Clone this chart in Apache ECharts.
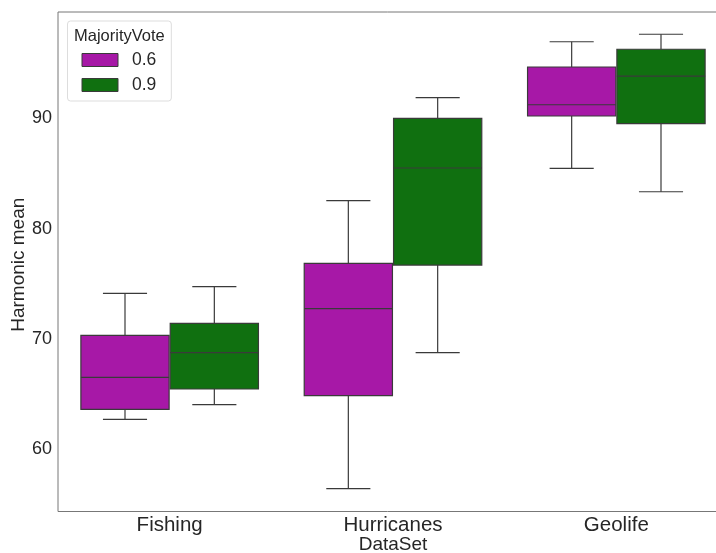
<!DOCTYPE html>
<html>
<head>
<meta charset="utf-8">
<script src="https://cdn.jsdelivr.net/npm/echarts@6/dist/echarts.min.js"></script>
<style>
  html, body { margin: 0; padding: 0; background: #fff; }
  #chart { width: 716px; height: 553px; }
</style>
</head>
<body>
<div id="chart"></div>
<script>
// Data sets on the category axis
const categories = ['Fishing', 'Hurricanes', 'Geolife'];
// Majority-vote thresholds (one box series each)
const voteLevels = ['0.6', '0.9'];
// Box statistics per data set: [low whisker, Q1, median, Q3, high whisker]
const vote06 = [
  [62.72, 63.63, 66.53, 70.34, 74.15],
  [56.43, 64.86, 72.75, 76.87, 82.55],
  [85.48, 90.23, 91.25, 94.67, 96.96]
];
const vote09 = [
  [64.05, 65.47, 68.76, 71.43, 74.75],
  [68.76, 76.71, 85.51, 90.02, 91.89],
  [83.36, 89.53, 93.85, 96.28, 97.64]
];
// Y tick labels
const yTicks = [60, 70, 80, 90];

const fillColors = ['#a718a7', '#107010'];
const lineColor = '#3a3a3a';
const textColor = '#262626';
const font = 'Liberation Sans, Arial, sans-serif';

// Draws one box-and-whisker, shifted within its category band
function makeRenderer(offsetFrac, fill) {
  return function (params, api) {
    const cat = api.value(0);
    const band = api.size([1, 0])[0];
    const cx = api.coord([cat, 0])[0] + offsetFrac * band;
    const halfBox = band * 0.395 / 2;
    const halfCap = halfBox / 2;
    const y = (v) => api.coord([cat, v])[1];
    const yLow = y(api.value(1)), yQ1 = y(api.value(2)), yMed = y(api.value(3)),
          yQ3 = y(api.value(4)), yHigh = y(api.value(5));
    const ln = { stroke: lineColor, lineWidth: 1.2 };
    return {
      type: 'group',
      children: [
        { type: 'line', shape: { x1: cx, y1: yQ1, x2: cx, y2: yLow }, style: ln },
        { type: 'line', shape: { x1: cx, y1: yQ3, x2: cx, y2: yHigh }, style: ln },
        { type: 'line', shape: { x1: cx - halfCap, y1: yLow, x2: cx + halfCap, y2: yLow }, style: ln },
        { type: 'line', shape: { x1: cx - halfCap, y1: yHigh, x2: cx + halfCap, y2: yHigh }, style: ln },
        { type: 'rect', shape: { x: cx - halfBox, y: yQ3, width: halfBox * 2, height: yQ1 - yQ3 },
          style: { fill: fill, stroke: lineColor, lineWidth: 1.2 } },
        { type: 'line', shape: { x1: cx - halfBox, y1: yMed, x2: cx + halfBox, y2: yMed }, style: ln }
      ]
    };
  };
}

function toSeriesData(stats) {
  return stats.map((s, i) => [i].concat(s));
}

const chart = echarts.init(document.getElementById('chart'), null, { renderer: 'canvas' });
chart.setOption({
  animation: false,
  backgroundColor: '#ffffff',
  title: {
    text: 'MajorityVote',
    left: 74,
    top: 27.5,
    padding: 0,
    textStyle: { fontFamily: font, fontSize: 16.5, fontWeight: 'normal', color: textColor }
  },
  legend: {
    orient: 'vertical',
    left: 67.5,
    top: 21,
    padding: [30, 15, 7, 14],
    backgroundColor: '#ffffff',
    borderColor: '#dddddd',
    borderWidth: 1,
    borderRadius: 3,
    itemWidth: 36,
    itemHeight: 13,
    itemGap: 7,
    icon: 'rect',
    itemStyle: { borderColor: lineColor, borderWidth: 1 },
    textStyle: { fontFamily: font, fontSize: 17.5, lineHeight: 18, color: textColor, padding: [0, 0, 0, 9] },
    data: voteLevels
  },
  grid: {
    left: 58, top: 12, bottom: 41.5, width: 670,
    outerBoundsMode: 'none', containLabel: false,
    show: true, borderColor: '#777', borderWidth: 1
  },
  xAxis: {
    type: 'category',
    data: categories,
    boundaryGap: true,
    axisLine: { show: false },
    axisTick: { show: false },
    splitLine: { show: false },
    axisLabel: { fontFamily: font, fontSize: 20.5, color: textColor, margin: 3 },
    name: 'DataSet',
    nameLocation: 'middle',
    nameGap: 23.5,
    nameMoveOverlap: false,
    nameTextStyle: { fontFamily: font, fontSize: 19, color: textColor }
  },
  yAxis: {
    type: 'value',
    min: 54.36,
    max: 99.66,
    axisLine: { show: false },
    axisTick: { show: false },
    splitLine: { show: false },
    axisLabel: { fontFamily: font, fontSize: 18, color: textColor, margin: 6, customValues: yTicks },
    name: 'Harmonic mean',
    nameLocation: 'middle',
    nameRotate: 90,
    nameGap: 29.5,
    nameMoveOverlap: false,
    nameTextStyle: { fontFamily: font, fontSize: 19, color: textColor, padding: [0, 6, 0, 0] }
  },
  series: [
    {
      name: voteLevels[0],
      type: 'custom',
      itemStyle: { color: fillColors[0] },
      renderItem: makeRenderer(-0.2, fillColors[0]),
      encode: { x: 0, y: [1, 2, 3, 4, 5] },
      data: toSeriesData(vote06)
    },
    {
      name: voteLevels[1],
      type: 'custom',
      itemStyle: { color: fillColors[1] },
      renderItem: makeRenderer(0.2, fillColors[1]),
      encode: { x: 0, y: [1, 2, 3, 4, 5] },
      data: toSeriesData(vote09)
    }
  ]
});
</script>
</body>
</html>
